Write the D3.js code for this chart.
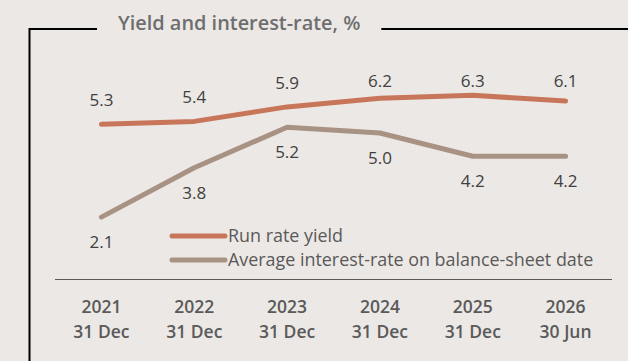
<!DOCTYPE html>
<html>
<head>
<meta charset="utf-8">
<script src="https://cdn.jsdelivr.net/npm/d3@7"></script>
<style>
  html, body { margin: 0; padding: 0; background: #ece8e5; }
  svg { display: block; font-family: "Open Sans", sans-serif; }
</style>
</head>
<body>
<div id="chart"></div>
<script>
// Data ------------------------------------------------------------------------
const years = ["2021", "2022", "2023", "2024", "2025", "2026"];
const dates = ["31 Dec", "31 Dec", "31 Dec", "31 Dec", "31 Dec", "30 Jun"];
const runRateYield = [5.3, 5.4, 5.9, 6.2, 6.3, 6.1];
const avgInterestRate = [2.1, 3.8, 5.2, 5.0, 4.2, 4.2];
const seriesNames = ["Run rate yield", "Average interest-rate on balance-sheet date"];
const seriesColors = ["#c8765a", "#a89283"];
const title = "Yield and interest-rate, %";

// Setup -----------------------------------------------------------------------
const width = 628;
const height = 361;

const svg = d3.select("#chart")
  .append("svg")
  .attr("width", width)
  .attr("height", height);

const x = d3.scaleBand()
  .domain(years)
  .range([55, 612])
  .padding(0);

const y = d3.scaleLinear()
  .domain([0, 8])
  .range([278, 46]);

const cx = d => x(d) + x.bandwidth() / 2;

// Frame and title -------------------------------------------------------------
const titleText = svg.append("text")
  .attr("x", 118)
  .attr("y", 30)
  .attr("fill", "#6e6e6e")
  .attr("font-size", 19.9)
  .attr("font-weight", 600)
  .text(title);

const titleEnd = 118 + titleText.node().getComputedTextLength();

svg.append("path")
  .attr("d", `M29.5,${height} V29 H97`)
  .attr("fill", "none")
  .attr("stroke", "#000")
  .attr("stroke-width", 2);

svg.append("line")
  .attr("x1", titleEnd + 21)
  .attr("x2", width)
  .attr("y1", 29)
  .attr("y2", 29)
  .attr("stroke", "#000")
  .attr("stroke-width", 2);

// X axis ----------------------------------------------------------------------
svg.append("line")
  .attr("x1", x.range()[0])
  .attr("x2", x.range()[1])
  .attr("y1", 279.5)
  .attr("y2", 279.5)
  .attr("stroke", "#595959")
  .attr("stroke-width", 1);

const ticks = svg.append("g")
  .selectAll("g")
  .data(years)
  .join("g")
  .attr("transform", d => `translate(${cx(d)},0)`);

ticks.append("text")
  .attr("y", 313)
  .attr("text-anchor", "middle")
  .attr("fill", "#5a5a5a")
  .attr("font-size", 17.5)
  .attr("font-weight", 600)
  .text(d => d);

ticks.append("text")
  .attr("y", 338)
  .attr("text-anchor", "middle")
  .attr("fill", "#5a5a5a")
  .attr("font-size", 17.5)
  .attr("font-weight", 600)
  .text((d, i) => dates[i]);

// Lines -----------------------------------------------------------------------
const line = d3.line()
  .x((d, i) => cx(years[i]))
  .y(d => y(d));

[runRateYield, avgInterestRate].forEach((series, s) => {
  svg.append("path")
    .datum(series)
    .attr("d", line)
    .attr("fill", "none")
    .attr("stroke", seriesColors[s])
    .attr("stroke-width", 5)
    .attr("stroke-linecap", "round")
    .attr("stroke-linejoin", "round");
});

// Data labels -----------------------------------------------------------------
svg.append("g")
  .selectAll("text")
  .data(runRateYield)
  .join("text")
  .attr("x", (d, i) => cx(years[i]))
  .attr("y", d => Math.max(y(d) - 24, 81))
  .attr("dy", "0.35em")
  .attr("text-anchor", "middle")
  .attr("fill", "#404040")
  .attr("font-size", 17)
  .text(d => d.toFixed(1));

svg.append("g")
  .selectAll("text")
  .data(avgInterestRate)
  .join("text")
  .attr("x", (d, i) => cx(years[i]))
  .attr("y", d => y(d) + 25)
  .attr("dy", "0.35em")
  .attr("text-anchor", "middle")
  .attr("fill", "#404040")
  .attr("font-size", 17)
  .text(d => d.toFixed(1));

// Legend ----------------------------------------------------------------------
const legend = svg.append("g")
  .selectAll("g")
  .data(seriesNames)
  .join("g")
  .attr("transform", (d, i) => `translate(172,${236 + i * 24})`);

legend.append("line")
  .attr("x1", 0)
  .attr("x2", 53)
  .attr("stroke", (d, i) => seriesColors[i])
  .attr("stroke-width", 5)
  .attr("stroke-linecap", "round");

legend.append("text")
  .attr("x", 56)
  .attr("dy", "0.35em")
  .attr("fill", "#595959")
  .attr("font-size", 17.9)
  .text(d => d);
</script>
</body>
</html>
